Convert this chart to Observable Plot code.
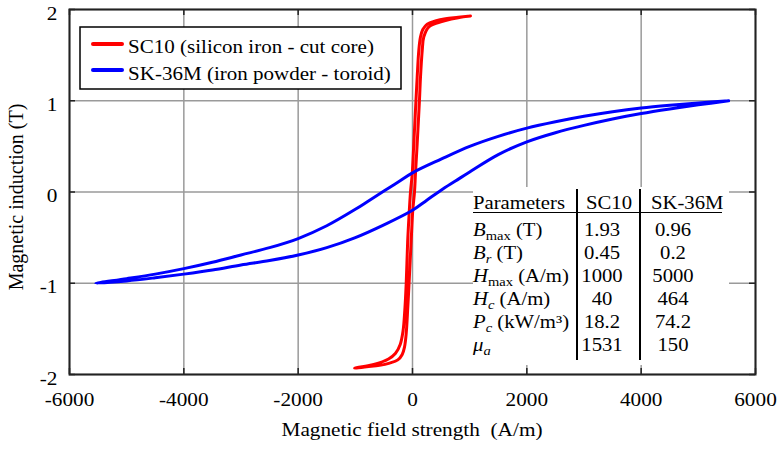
<!DOCTYPE html>
<html>
<head>
<meta charset="utf-8">
<script src="https://cdn.jsdelivr.net/npm/d3@7"></script>
<script src="https://cdn.jsdelivr.net/npm/@observablehq/plot@0.6"></script>
<style>
  html, body { margin: 0; padding: 0; background: #fff; }
  #chart { width: 782px; height: 449px; }
  #chart svg { display: block; }
  #chart svg, #chart svg text, #chart svg tspan { font-family: "Liberation Serif", "Tinos", "Times New Roman", serif !important; }
</style>
</head>
<body>
<div id="chart"></div>
<script>
// B-H hysteresis loops: field strength H (A/m) and induction B (T), traced
// from +Hmax down the descending branch and back up the ascending branch.
const sc10H = [1014, 800, 577, 400, 257, 180, 140, 110, 82, 61, 23, -5, -35, -60, -85, -110, -135, -165, -215, -300, -420, -677, -1014,
               -800, -577, -400, -257, -180, -140, -110, -82, -61, -23, 5, 35, 52, 82, 122, 140, 170, 198, 285, 373, 577, 800, 1014];
const sc10B = [1.93, 1.915, 1.90, 1.875, 1.84, 1.78, 1.70, 1.55, 1.26, 1.01, 0.53, 0.2, 0, -0.25, -0.55, -1.0, -1.3, -1.52, -1.67, -1.77, -1.83, -1.89, -1.93,
               -1.915, -1.90, -1.875, -1.84, -1.78, -1.70, -1.55, -1.26, -1.01, -0.53, -0.2, 0, 0.2, 0.53, 1.01, 1.26, 1.55, 1.70, 1.81, 1.84, 1.88, 1.91, 1.93];

const sk36mH = [5530, 5000, 4500, 4000, 3500, 3000, 2500, 2000, 1500, 1000, 500, 0, -250, -500, -750, -1000, -1500, -2000, -2500, -3000, -3500, -4000, -4500, -5000, -5540,
                -5000, -4500, -4000, -3500, -3000, -2500, -2000, -1500, -1000, -500, 0, 250, 500, 750, 1000, 1500, 2000, 2500, 3000, 3500, 4000, 4500, 5000, 5530];
const sk36mB = [1.00, 0.975, 0.95, 0.92, 0.88, 0.83, 0.77, 0.70, 0.61, 0.50, 0.36, 0.21, 0.11, 0.01, -0.09, -0.19, -0.37, -0.51, -0.61, -0.69, -0.77, -0.84, -0.90, -0.95, -1.00,
                -0.975, -0.94, -0.90, -0.855, -0.80, -0.75, -0.69, -0.61, -0.50, -0.36, -0.20, -0.09, 0.02, 0.12, 0.22, 0.41, 0.55, 0.65, 0.73, 0.80, 0.86, 0.91, 0.955, 1.00];

const seriesKeys = ["SC10", "SK-36M"];
const seriesNames = ["SC10 (silicon iron - cut core)", "SK-36M (iron powder - toroid)"];
const seriesColors = ["#ff0000", "#0000ff"];

const xTicks = [-6000, -4000, -2000, 0, 2000, 4000, 6000];
const yTicks = [-2, -1, 0, 1, 2];
const xTitle = "Magnetic field strength  (A/m)";
const yTitle = "Magnetic induction (T)";

// Parameter table
const tableHeaders = ["Parameters", "SC10", "SK-36M"];
const paramSymbols = ["B", "B", "H", "H", "P", "\u03bc"];
const paramSubs = ["max", "r", "max", "c", "c", "a"];
const paramUnits = ["(T)", "(T)", "(A/m)", "(A/m)", "(kW/m\u00b3)", ""];
const sc10Values = ["1.93", "0.45", "1000", "40", "18.2", "1531"];
const sk36mValues = ["0.96", "0.2", "5000", "464", "74.2", "150"];

const rows = [
  ...sc10H.map((h, i) => ({series: seriesKeys[0], h, b: sc10B[i]})),
  ...sk36mH.map((h, i) => ({series: seriesKeys[1], h, b: sk36mB[i]}))
];

const serif = "Liberation Serif, Tinos, Times New Roman, serif";
const stretch = 1.12;

const chart = Plot.plot({
  width: 782,
  height: 449,
  marginLeft: 69,
  marginRight: 27,
  marginTop: 9,
  marginBottom: 75,
  style: {fontFamily: serif, fontSize: "19px", background: "#fff", color: "#000", overflow: "visible"},
  x: {domain: [-6000, 6000]},
  y: {domain: [-2, 2]},
  color: {domain: seriesKeys, range: seriesColors},
  marks: [
    Plot.gridX(xTicks, {stroke: "#9a9a9a", strokeOpacity: 1, strokeWidth: 1.5}),
    Plot.gridY(yTicks, {stroke: "#9a9a9a", strokeOpacity: 1, strokeWidth: 1.5}),
    Plot.line(rows, {x: "h", y: "b", z: "series", stroke: "series", strokeWidth: 3, curve: "catmull-rom"}),
    // inward tick marks on all four sides of the box
    Plot.ruleX(xTicks, {x: d => d, stroke: "#222", strokeWidth: 1.5, insetTop: 359}),
    Plot.ruleX(xTicks, {x: d => d, stroke: "#222", strokeWidth: 1.5, insetBottom: 359}),
    Plot.ruleY(yTicks, {y: d => d, stroke: "#222", strokeWidth: 1.5, insetRight: 680}),
    Plot.ruleY(yTicks, {y: d => d, stroke: "#222", strokeWidth: 1.5, insetLeft: 680}),
    Plot.frame({stroke: "#222", strokeWidth: 2}),
    Plot.axisX(xTicks, {tickSize: 0, tickPadding: 18, tickFormat: d => String(d), label: null, fontSize: 19}),
    Plot.axisY(yTicks, {tickSize: 0, tickPadding: 12, tickFormat: d => String(d), label: null, fontSize: 19, dy: 4})
  ]
});

// widen the tick labels slightly around their anchor points
d3.select(chart).selectAll("text").each(function () {
  const t = this.getAttribute("transform");
  if (t) {
    this.setAttribute("transform", t + ` scale(${stretch},1)`);
  } else {
    const x = +this.getAttribute("x") || 0, y = +this.getAttribute("y") || 0;
    this.removeAttribute("x"); this.removeAttribute("y");
    this.setAttribute("transform", `translate(${x},${y}) scale(${stretch},1)`);
  }
});

document.getElementById("chart").appendChild(chart);

const svg = d3.select(chart);
const ann = svg.append("g").attr("font-family", serif).attr("fill", "#000");

function addText(x, y, size, anchor, str) {
  return ann.append("text")
    .attr("transform", `translate(${x},${y}) scale(${stretch},1)`)
    .attr("font-size", size)
    .attr("text-anchor", anchor)
    .style("white-space", "pre")
    .text(str);
}

// axis titles
addText(412, 436, 19, "middle", xTitle);
ann.append("text")
  .attr("transform", "translate(23,197) rotate(-90)")
  .attr("font-size", 20)
  .attr("text-anchor", "middle")
  .text(yTitle);

// legend
const legend = ann.append("g");
legend.append("rect").attr("x", 80).attr("y", 27).attr("width", 321).attr("height", 62)
  .attr("fill", "#fff").attr("stroke", "#000").attr("stroke-width", 1.5);
const legendLineY = [44, 70];
const legendTextY = [53.3, 80];
seriesNames.forEach((name, i) => {
  legend.append("line").attr("x1", 93).attr("x2", 122).attr("y1", legendLineY[i]).attr("y2", legendLineY[i])
    .attr("stroke", seriesColors[i]).attr("stroke-width", 4).attr("stroke-linecap", "round");
  addText(128, legendTextY[i], 18.8, "start", name);
});

// parameter table
const table = ann.append("g");
table.append("rect").attr("x", 473).attr("y", 187).attr("width", 256).attr("height", 178).attr("fill", "#fff");
table.append("line").attr("x1", 473).attr("x2", 722).attr("y1", 212.5).attr("y2", 212.5)
  .attr("stroke", "#000").attr("stroke-width", 1);
[577, 640].forEach(x => table.append("line").attr("x1", x).attr("x2", x).attr("y1", 189).attr("y2", 360)
  .attr("stroke", "#000").attr("stroke-width", 2));

const headerX = [473, 586, 651];
tableHeaders.forEach((h, i) => addText(headerX[i], 209, 18.5, "start", h));

const rowY = [236, 259, 282, 305, 328, 351];
paramSymbols.forEach((sym, i) => {
  const t = addText(473, rowY[i], 18.5, "start", null);
  t.append("tspan").attr("font-style", "italic").text(sym);
  t.append("tspan").attr("font-size", 13).attr("dy", 4)
    .attr("font-style", paramSubs[i] === "max" ? "normal" : "italic").text(paramSubs[i]);
  if (paramUnits[i]) t.append("tspan").attr("dy", -4).text(" " + paramUnits[i]);
  addText(602, rowY[i], 18.5, "middle", sc10Values[i]);
  addText(673, rowY[i], 18.5, "middle", sk36mValues[i]);
});
</script>
</body>
</html>
